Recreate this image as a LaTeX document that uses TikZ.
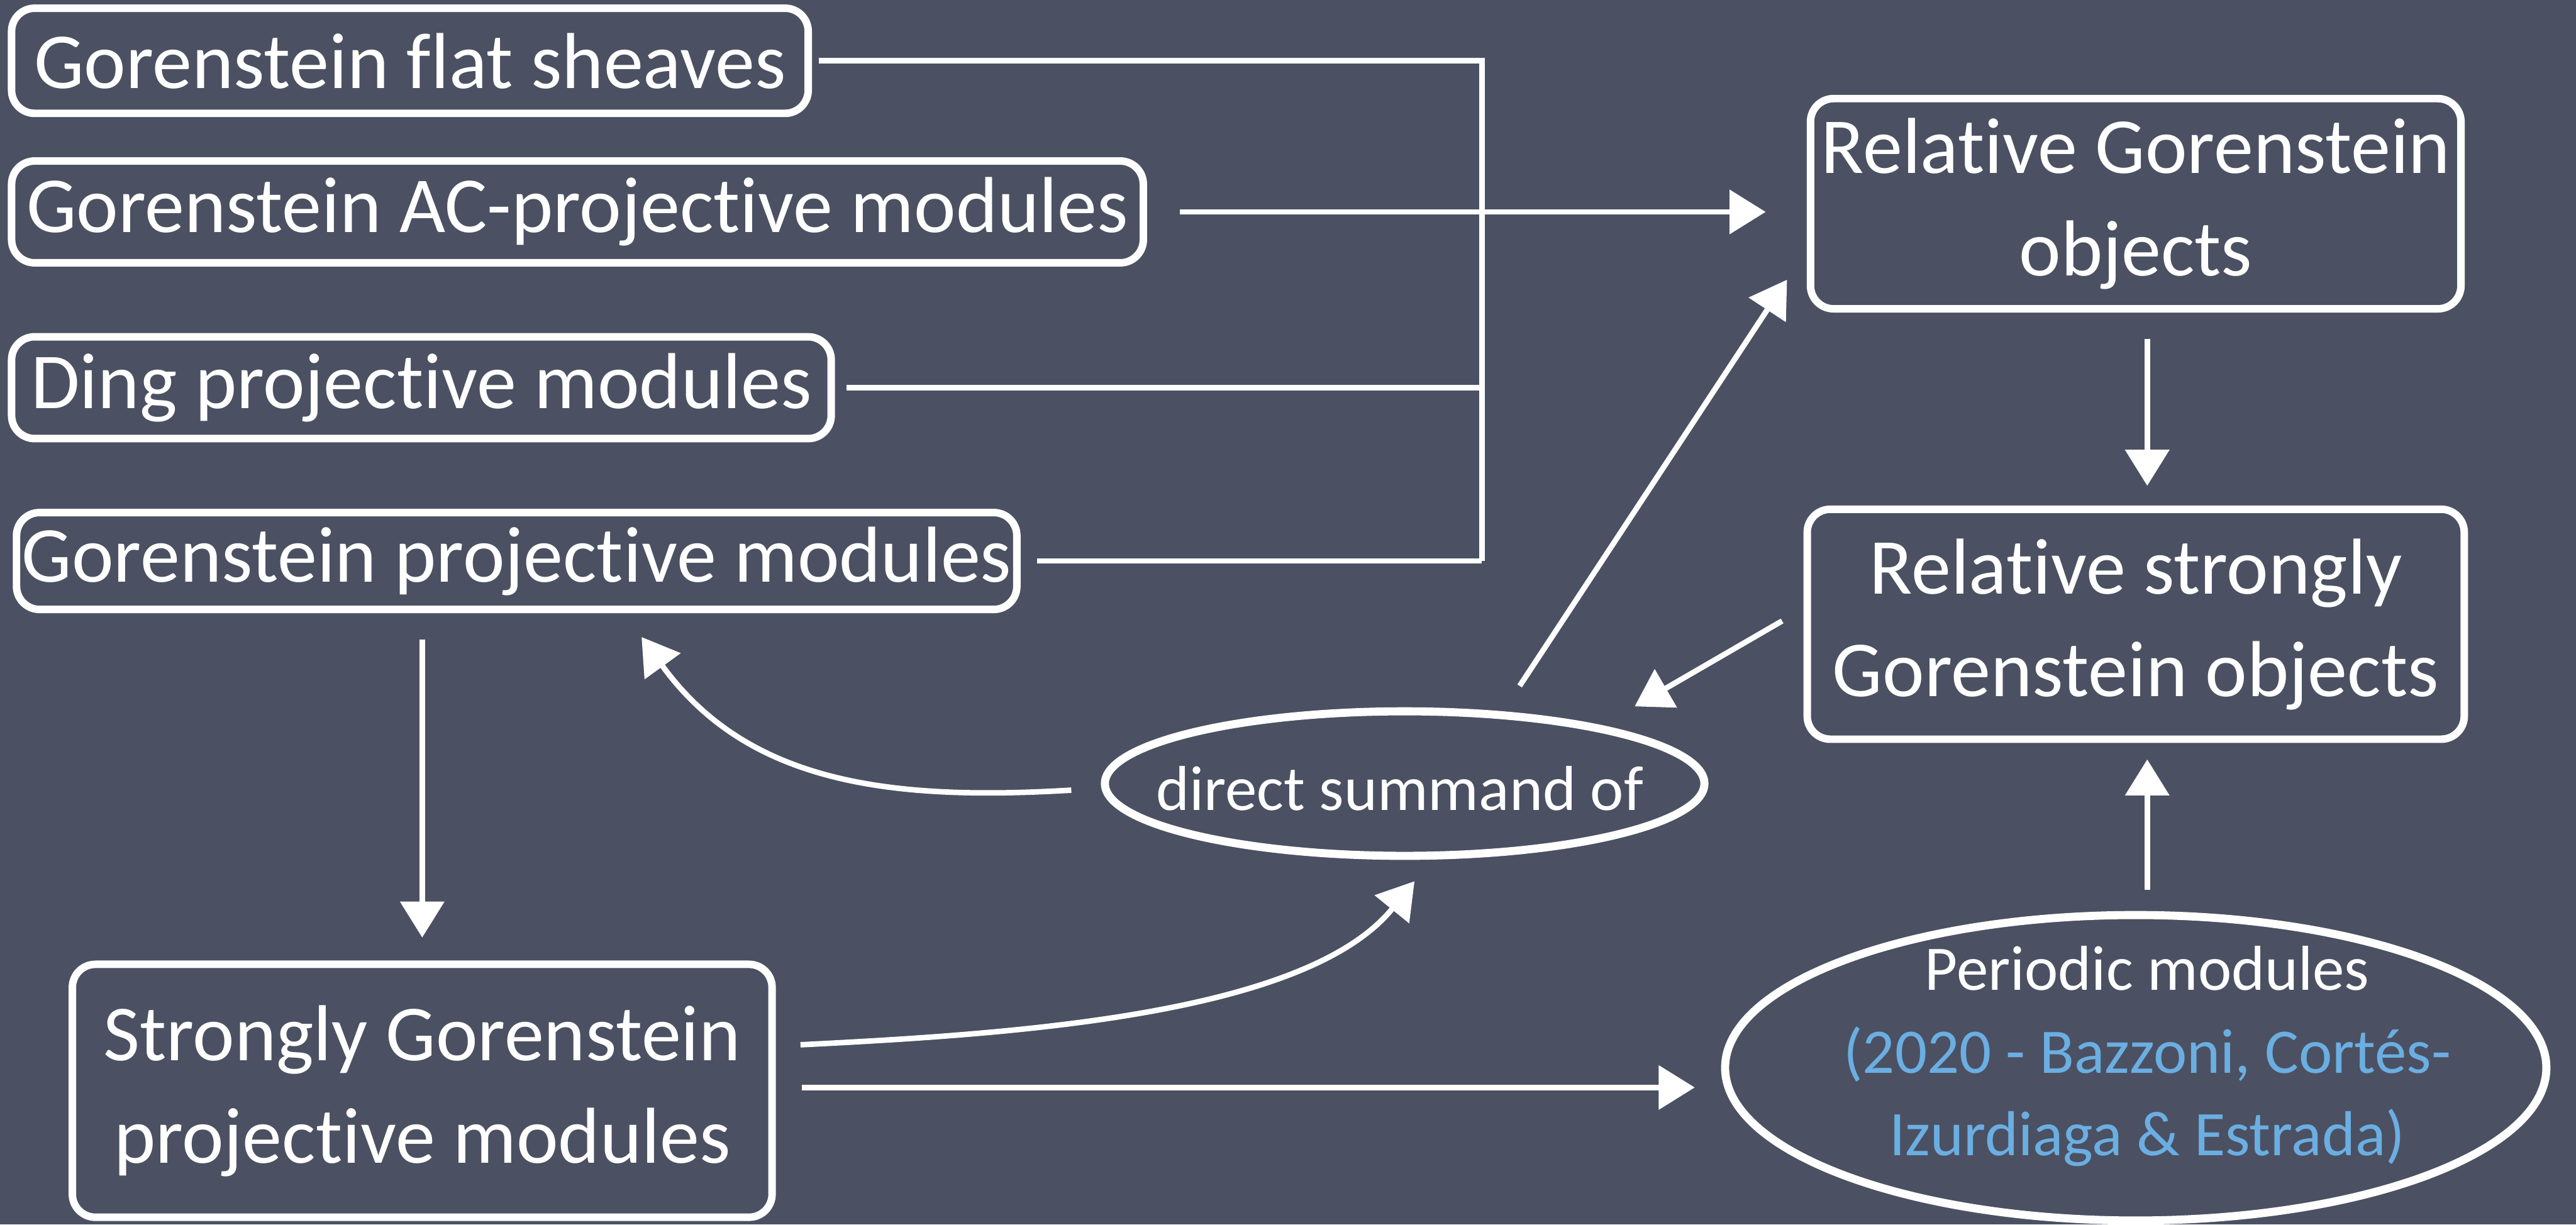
\documentclass[tikz,border=0pt]{standalone}
\usepackage{fontspec}
\setmainfont{Carlito}[Ligatures=NoCommon]
\usetikzlibrary{arrows.meta,calc,shapes.geometric}
\definecolor{board}{HTML}{4B5162}
\definecolor{chalkblue}{HTML}{6BAEE2}
\begin{document}
\begin{tikzpicture}[x=0.02cm,y=-0.02cm,
  box/.style={draw=white, line width=2.6pt, rounded corners=8pt, text=white, inner sep=0pt, align=center, font=\fontsize{27.5}{35.5}\selectfont},
  oval/.style={draw=white, line width=2.8pt, ellipse, inner sep=0pt},
  ovaltext/.style={text=white, inner sep=0pt, align=center, font=\fontsize{22}{28.7}\selectfont},
  arr/.style={draw=white, line width=1.9pt, -{Triangle[length=12.5pt,width=15pt]}},
  ln/.style={draw=white, line width=1.9pt}]
\fill[board] (0,0) rectangle (1568,745.5);
\useasboundingbox (0,0) rectangle (1568,745.5);

\node[box, minimum width=9.7cm, minimum height=1.28cm] (b1) at (249.5,37) {Gorenstein flat sheaves};
\node[box, minimum width=13.78cm, minimum height=1.24cm] (b2) at (351.5,129) {Gorenstein AC-projective modules};
\node[box, minimum width=9.98cm, minimum height=1.24cm] (b3) at (256.5,236) {Ding projective modules};
\node[box, minimum width=12.18cm, minimum height=1.18cm] (b4) at (314.5,341.5) {Gorenstein projective modules};
\node[box, minimum width=7.92cm, minimum height=2.56cm] (b5) at (1300,124) {Relative Gorenstein\\objects};
\node[box, minimum width=8.0cm, minimum height=2.8cm] (b6) at (1300,380) {Relative strongly\\Gorenstein objects};
\node[box, minimum width=8.52cm, minimum height=3.08cm] (b8) at (257,664) {Strongly Gorenstein\\projective modules};
\node[oval, minimum width=7.3cm, minimum height=1.76cm] (c7) at (855,477) {};
\node[ovaltext] (t7) at (852,480) {direct summand of};
\node[oval, minimum width=10.0cm, minimum height=3.72cm] (c9) at (1300,650) {};
\node[ovaltext] (t9) at (1307,643) {Periodic modules\\\textcolor{chalkblue}{(2020 - Bazzoni, Cortés-}\\\textcolor{chalkblue}{Izurdiaga \& Estrada)}};

\coordinate (jt) at (902,37);
\coordinate (jb) at (902,341.5);

\draw[ln] ($(b1.east)+(4,0)$) -- (jt) -- (jb);
\draw[ln] ($(b3.east)+(7,0)$) -- (b3.east -| jt);
\draw[ln] ($(b4.east)+(10,0)$) -- (jb);
\draw[arr] ($(b2.east)+(20,0)$) -- ($(b2.east -| b5.west)+(-25,0)$);
\draw[arr] ($(b5.south)+(7,16)$) -- ($(b6.north)+(7,-12)$);
\draw[arr] ($(c9.north)+(7,-13)$) -- ($(b6.south)+(7,10)$);
\draw[arr] ($(b4.south -| b8.north)+(0,16)$) -- ($(b8.north)+(0,-14)$);
\draw[arr] ($(b8.east)+(16,-2)$) -- ($(b8.east -| c9.west)+(-16,-2)$);
\draw[arr] ($(b8.east)+(15,-28)$) .. controls (617,629.5) and (795,618) .. ($(c7.south)+(6,13)$);
\draw[arr] ($(c7.west)+(-18,4)$) .. controls (542,487.6) and (455,477) .. ($(b4.south)+(76,14.5)$);
\draw[arr] ($(c7.north)+(70,-13)$) -- ($(b5.south west)+(-12,-20)$);
\draw[arr] ($(b6.west)+(-13,-2)$) -- ($(c7.center)+(140,-47)$);
\end{tikzpicture}
\end{document}
